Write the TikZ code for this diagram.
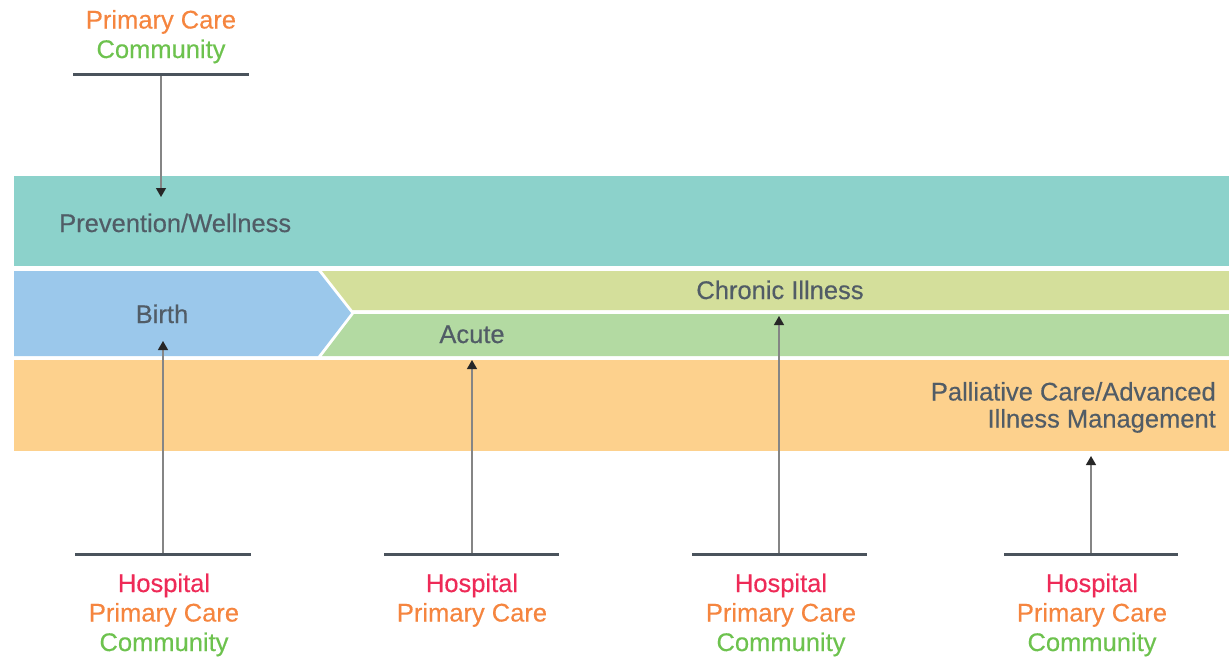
\documentclass[tikz,border=0pt]{standalone}
\usepackage{fontspec}
\setmainfont{Liberation Sans}
\newfontfamily\medfont{Liberation Sans}[FakeBold=0.4]
\usetikzlibrary{arrows.meta,calc}
\definecolor{teal}{HTML}{8CD2CB}
\definecolor{birthblue}{HTML}{9BC8EB}
\definecolor{chronic}{HTML}{D4DF9B}
\definecolor{acute}{HTML}{B3DAA2}
\definecolor{pall}{HTML}{FDD18D}
\definecolor{tgray}{HTML}{515C66}
\definecolor{hosp}{HTML}{EE2A57}
\definecolor{pcare}{HTML}{F5853F}
\definecolor{comm}{HTML}{6DC24E}
\definecolor{bargray}{HTML}{4A535C}
\definecolor{arrgray}{HTML}{858585}
\begin{document}
\begin{tikzpicture}[x=1pt,y=-1pt,
  txt/.style={font=\medfont\fontsize{25.5}{30}\selectfont, inner sep=0pt, anchor=base, text=tgray},
  barline/.style={line width=3pt, draw=bargray},
  arr/.style={draw=arrgray, line width=1.3pt, -{Triangle[length=9pt,width=10pt,color=black!85]}}]
\useasboundingbox (0,0) rectangle (1229,657);

% bands
\fill[teal] (14,176) rectangle (1229,266);
\fill[birthblue] (14,271) -- (318,271) -- (351,313) -- (318,356) -- (14,356) -- cycle;
\fill[chronic] (322,271) -- (1229,271) -- (1229,310) -- (352.5,310) -- cycle;
\fill[acute] (354,314) -- (1229,314) -- (1229,356) -- (322,356) -- cycle;
\fill[pall] (14,360) rectangle (1229,451);

% band labels
\node[txt, anchor=base west] (prev) at (59,232) {Prevention/Wellness};
\node[txt] (birth) at (162,323) {Birth};
\node[txt] (chron) at (780,299) {Chronic Illness};
\node[txt] (acut) at (472,343) {Acute};
\node[txt, anchor=base east] (pall1) at (1216,400.5) {Palliative Care/Advanced};
\node[txt, anchor=base east] (pall2) at (1216,427.5) {Illness Management};

% top group
\coordinate (b0) at (161,74);
\coordinate (t0) at (161,197);
\draw[arr] (b0) -- (t0);
\draw[barline] ($(b0)+(-88,0)$) -- ($(b0)+(88,0)$);
\node[txt, text=pcare] (p0) at (161,28.5) {Primary Care};
\node[txt, text=comm] (c0) at (161,58) {Community};

% bottom group 1
\coordinate (b1) at (163,554);
\coordinate (t1) at (163,341);
\draw[arr] (b1) -- (t1);
\draw[barline] ($(b1)+(-88,0)$) -- ($(b1)+(88,0)$);
\node[txt, text=hosp] (h1) at (164,592) {Hospital};
\node[txt, text=pcare] (p1) at (164,621.5) {Primary Care};
\node[txt, text=comm] (c1) at (164,651) {Community};

% bottom group 2
\coordinate (b2) at (472,554);
\coordinate (t2) at (472,360);
\draw[arr] (b2) -- (t2);
\draw[barline] ($(b2)+(-88,0)$) -- ($(b2)+(87,0)$);
\node[txt, text=hosp] (h2) at (472,592) {Hospital};
\node[txt, text=pcare] (p2) at (472,621.5) {Primary Care};

% bottom group 3
\coordinate (b3) at (779,554);
\coordinate (t3) at (779,316);
\draw[arr] (b3) -- (t3);
\draw[barline] ($(b3)+(-87,0)$) -- ($(b3)+(88,0)$);
\node[txt, text=hosp] (h3) at (781,592) {Hospital};
\node[txt, text=pcare] (p3) at (781,621.5) {Primary Care};
\node[txt, text=comm] (c3) at (781,651) {Community};

% bottom group 4
\coordinate (b4) at (1091,554);
\coordinate (t4) at (1091,456);
\draw[arr] (b4) -- (t4);
\draw[barline] ($(b4)+(-87,0)$) -- ($(b4)+(87,0)$);
\node[txt, text=hosp] (h4) at (1092,592) {Hospital};
\node[txt, text=pcare] (p4) at (1092,621.5) {Primary Care};
\node[txt, text=comm] (c4) at (1092,651) {Community};
\end{tikzpicture}
\end{document}
